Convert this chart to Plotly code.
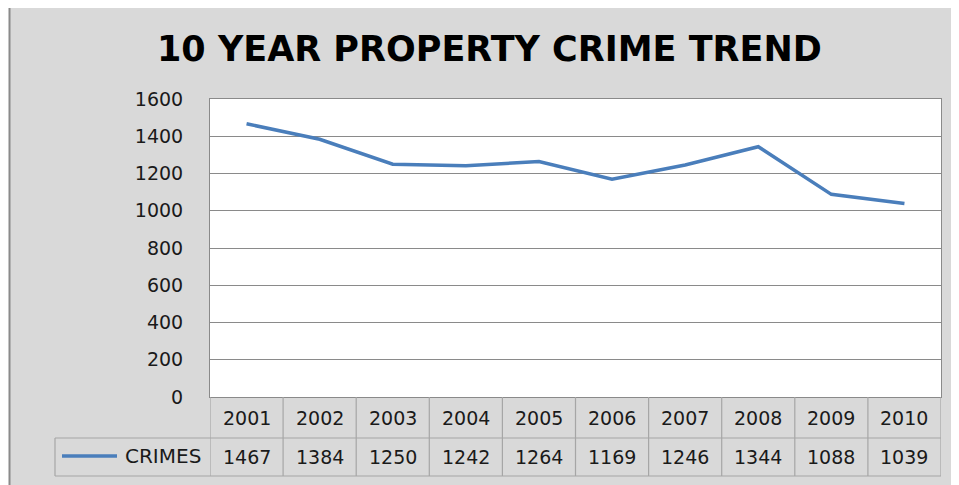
import plotly.graph_objects as go

years = ["2001", "2002", "2003", "2004", "2005", "2006", "2007", "2008", "2009", "2010"]
crimes = [1467, 1384, 1250, 1242, 1264, 1169, 1246, 1344, 1088, 1039]
series_name = "CRIMES"
title_text = "10 YEAR PROPERTY CRIME TREND"
y_ticks = [0, 200, 400, 600, 800, 1000, 1200, 1400, 1600]

# page has an 8px body margin: figure is offset by (8, 8)
OX, OY = 8, 8
W, H = 959 - OX, 485 - OY
def px(x):
    return (x - OX) / W
def py(y):
    return 1 - (y - OY) / H

LINE_COLOR = "#4a7ebb"
GRID = "#8a8a8a"
TABLE = "#a6a6a6"
BG = "#d9d9d9"
FONT = "DejaVu Sans"

x_left, x_right = 210, 941
y_top, y_zero = 99, 397
row1_bot, row2_bot = 438, 476
legend_left = 55

fig = go.Figure()
fig.add_trace(go.Scatter(x=list(range(len(years))), y=crimes, mode="lines", name=series_name,
                         line=dict(color=LINE_COLOR, width=3.5), showlegend=False))

shapes = []
# white margin strip + outer border on the left
shapes.append(dict(type="rect", xref="paper", yref="paper", x0=px(0), x1=px(9.5), y0=-0.1, y1=1.1,
                   fillcolor="white", line=dict(width=0), layer="above"))
shapes.append(dict(type="line", xref="paper", yref="paper", x0=px(9.5), x1=px(9.5), y0=-0.1, y1=1.1,
                   line=dict(color="#8a8a8a", width=2), layer="above"))

# table vertical lines (column borders)
for i in range(len(years) + 1):
    shapes.append(dict(type="line", xref="x", yref="paper", x0=i - 0.5, x1=i - 0.5,
                       y0=py(row2_bot), y1=py(y_zero), line=dict(color=TABLE, width=1.2)))
# table horizontal lines
shapes.append(dict(type="line", xref="paper", yref="paper", x0=px(legend_left), x1=px(x_right),
                   y0=py(row1_bot), y1=py(row1_bot), line=dict(color=TABLE, width=1.2)))
shapes.append(dict(type="line", xref="paper", yref="paper", x0=px(legend_left), x1=px(x_right),
                   y0=py(row2_bot), y1=py(row2_bot), line=dict(color=TABLE, width=1.2)))
shapes.append(dict(type="line", xref="paper", yref="paper", x0=px(legend_left), x1=px(legend_left),
                   y0=py(row2_bot), y1=py(row1_bot), line=dict(color=TABLE, width=1.2)))
# legend key
shapes.append(dict(type="line", xref="paper", yref="paper", x0=px(62), x1=px(117),
                   y0=py(456), y1=py(456), line=dict(color=LINE_COLOR, width=3.5)))

annotations = []
annotations.append(dict(text="<b>" + title_text + "</b>", xref="paper", yref="paper",
                        x=px(490), y=py(49), xanchor="center", yanchor="middle", showarrow=False,
                        font=dict(family=FONT, size=35, color="black")))
for i, (yr, v) in enumerate(zip(years, crimes)):
    annotations.append(dict(text=yr, xref="x", yref="paper", x=i, y=py(418),
                            xanchor="center", yanchor="middle", showarrow=False,
                            font=dict(family=FONT, size=19, color="#1a1a1a")))
    annotations.append(dict(text=str(v), xref="x", yref="paper", x=i, y=py(457),
                            xanchor="center", yanchor="middle", showarrow=False,
                            font=dict(family=FONT, size=19, color="#1a1a1a")))
annotations.append(dict(text=series_name, xref="paper", yref="paper", x=px(203), y=py(456),
                        xanchor="right", yanchor="middle", showarrow=False,
                        font=dict(family=FONT, size=20, color="#1a1a1a")))

fig.update_layout(
    width=W, height=H,
    margin=dict(l=0, r=0, t=0, b=0, autoexpand=False),
    paper_bgcolor=BG, plot_bgcolor="white",
    showlegend=False,
    shapes=shapes, annotations=annotations,
    xaxis=dict(domain=[px(x_left), px(x_right)], range=[-0.5, len(years) - 0.5],
               showticklabels=False, showgrid=False, zeroline=False, automargin=False,
               showline=True, mirror=True, linecolor=GRID, linewidth=1),
    yaxis=dict(domain=[py(y_zero), py(y_top)], range=[0, 1600], tickvals=y_ticks,
               showgrid=True, gridcolor=GRID, gridwidth=1, zeroline=False, automargin=False,
               showline=True, mirror=True, linecolor=GRID, linewidth=1,
               ticks="outside", ticklen=22, tickcolor="rgba(0,0,0,0)",
               tickfont=dict(family=FONT, size=19, color="#1a1a1a")),
)

fig.write_html("out.html")
